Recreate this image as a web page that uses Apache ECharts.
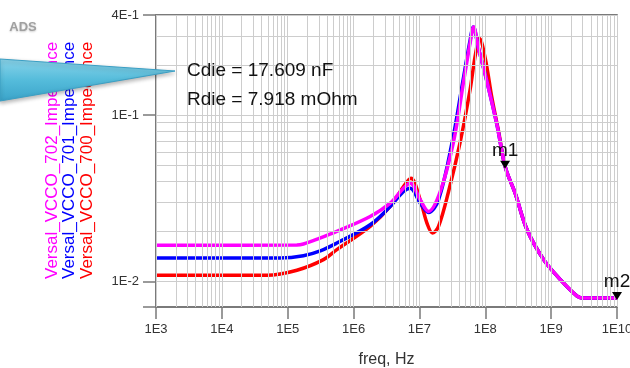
<!DOCTYPE html>
<html>
<head>
<meta charset="utf-8">
<script src="https://cdn.jsdelivr.net/npm/echarts@6/dist/echarts.min.js"></script>
<style>
  html, body { margin: 0; padding: 0; background: #fff; }
  #chart { width: 630px; height: 368px; }
</style>
</head>
<body>
<div id="chart"></div>
<script>
// axis ticks
const xTickVals = [1e3, 1e4, 1e5, 1e6, 1e7, 1e8, 1e9, 1e10];
const xTickLabels = ['1E3', '1E4', '1E5', '1E6', '1E7', '1E8', '1E9', '1E10'];
const yTickVals = [4e-1, 1e-1, 1e-2];
const yTickLabels = ['4E-1', '1E-1', '1E-2'];

// Versal_VCCO_700_Impedance (red)
const freq700 = [1e3, 4.81e4, 1.38e5, 3.49e5, 5.57e5, 1.786e6, 3.6e6, 5.73e6, 7.43e6, 1.028e7, 1.3e7, 1.58e7, 1.95e7,
  2.77e7, 4.17e7, 5.92e7, 7.05e7, 8.18e7, 1.0e8, 1.265e8, 1.59e8, 2.01e8, 2.86e8, 4.31e8, 7.69e8, 1.38e9, 2.48e9, 2.95e9, 4e9, 1e10];
const imp700 = [0.01086, 0.01086, 0.01165, 0.01349, 0.01549, 0.02138, 0.02818, 0.03715, 0.04169, 0.0309, 0.02239, 0.0195, 0.02138,
  0.03467, 0.06918, 0.1445, 0.2291, 0.2884, 0.2188, 0.1259, 0.08, 0.0488, 0.0336, 0.0204, 0.01349, 0.01023, 0.00813, 0.00794, 0.00794, 0.00794];

// Versal_VCCO_701_Impedance (blue)
const freq701 = [1e3, 7.66e4, 1.734e5, 3.2e5, 5.57e5, 1.786e6, 3.6e6, 5.73e6, 7.24e6, 1.028e7, 1.374e7, 1.95e7, 3.15e7, 4.55e7,
  5.82e7, 6.58e7, 7.91e7, 1.062e8, 1.507e8, 2.01e8, 2.86e8, 4.31e8, 7.69e8, 1.38e9, 2.48e9, 2.95e9, 4e9, 1e10];
const imp701 = [0.0138, 0.0138, 0.01425, 0.0153, 0.01698, 0.02188, 0.02818, 0.03467, 0.03631, 0.02951, 0.02594, 0.0309, 0.06918, 0.1585,
  0.2754, 0.3388, 0.2512, 0.1585, 0.087, 0.0488, 0.0336, 0.0204, 0.01349, 0.01023, 0.00813, 0.00794, 0.00794, 0.00794];

// Versal_VCCO_702_Impedance (magenta)
const freq702 = [1e3, 1.374e5, 1.734e5, 3e5, 5.57e5, 1.786e6, 3.6e6, 5.73e6, 7.24e6, 1.028e7, 1.374e7, 2.07e7, 3.3e7, 4.68e7,
  5.92e7, 6.64e7, 7.91e7, 1.062e8, 1.507e8, 2.01e8, 2.86e8, 4.31e8, 7.69e8, 1.38e9, 2.48e9, 2.95e9, 4e9, 1e10];
const imp702 = [0.01644, 0.0165, 0.01675, 0.0181, 0.01995, 0.02455, 0.02951, 0.03631, 0.0389, 0.0309, 0.0263, 0.03467, 0.06918, 0.1585,
  0.2754, 0.3388, 0.2512, 0.1585, 0.087, 0.0488, 0.0336, 0.0204, 0.01349, 0.01023, 0.00813, 0.00794, 0.00794, 0.00794];

// markers
const markerNames = ['m1', 'm2'];
const markerFreqs = [2e8, 1e10];
const markerVals = [0.0488, 0.00794];

const zip = (xs, ys) => xs.map((x, i) => [x, ys[i]]);

// log grid values (2..9 per decade)
const xGrid = [];
for (let d = 3; d < 10; d++) for (let k = 1; k < 10; k++) xGrid.push(k * Math.pow(10, d));
xGrid.push(1e10);
const yGrid = [7e-3, 8e-3, 9e-3];
for (let k = 1; k < 10; k++) yGrid.push(k * 1e-2);
for (let k = 1; k < 5; k++) yGrid.push(k * 1e-1);

const labelFor = (vals, labels) => v => {
  const i = vals.findIndex(t => Math.abs(Math.log10(t) - Math.log10(v)) < 0.01);
  return i < 0 ? '' : labels[i];
};

const FONT = '"Liberation Sans", Arial, sans-serif';
const axisGray = '#7a7a7a';

const chart = echarts.init(document.getElementById('chart'));

const curve = (name, color, data, extra) => Object.assign({
  name,
  type: 'line',
  data,
  showSymbol: false,
  smooth: 0.35,
  z: 3,
  lineStyle: { color, width: 3.5 },
  itemStyle: { color },
  animation: false
}, extra || {});

chart.setOption({
  animation: false,
  textStyle: { fontFamily: FONT },
  grid: { left: 156, top: 15, right: 13, bottom: 61, containLabel: false, outerBoundsMode: 'none' },
  xAxis: [{
    type: 'log',
    logBase: 10,
    min: 1e3,
    max: 1e10,
    position: 'bottom',
    name: 'freq, Hz',
    nameLocation: 'middle',
    nameGap: 45,
    nameTextStyle: { fontSize: 16, color: '#333', fontFamily: FONT },
    axisLine: { onZero: false, lineStyle: { color: axisGray, width: 2 } },
    axisTick: { length: 12, lineStyle: { color: axisGray, width: 1.5 } },
    axisLabel: { margin: 16, fontSize: 13, color: '#333', fontFamily: FONT,
      formatter: labelFor(xTickVals, xTickLabels) },
    splitLine: { show: false }
  }, {
    type: 'log',
    logBase: 10,
    min: 1e3,
    max: 1e10,
    position: 'top',
    axisLine: { onZero: false, lineStyle: { color: axisGray, width: 2 } },
    axisTick: { show: false },
    axisLabel: { show: false },
    splitLine: { show: false }
  }],
  yAxis: {
    type: 'log',
    logBase: 10,
    min: 7e-3,
    max: 4e-1,
    axisLine: { show: true, onZero: false, lineStyle: { color: axisGray, width: 2 } },
    axisTick: { show: true, length: 13, lineStyle: { color: axisGray, width: 1.5 } },
    axisLabel: { margin: 17, fontSize: 13, color: '#333', fontFamily: FONT,
      formatter: labelFor(yTickVals, yTickLabels) },
    splitLine: { show: false }
  },
  series: [
    {
      type: 'line',
      data: [],
      z: 1,
      silent: true,
      markLine: {
        silent: true,
        symbol: 'none',
        animation: false,
        label: { show: false },
        lineStyle: { color: '#cdcdcd', width: 1, type: 'solid' },
        data: xGrid.map(v => ({ xAxis: v })).concat(yGrid.map(v => ({ yAxis: v })))
      }
    },
    curve('Versal_VCCO_700_Impedance', '#ff0000', zip(freq700, imp700)),
    curve('Versal_VCCO_701_Impedance', '#0000ff', zip(freq701, imp701)),
    curve('Versal_VCCO_702_Impedance', '#ff00ff', zip(freq702, imp702), {
      markPoint: {
        symbol: 'triangle',
        symbolRotate: 180,
        symbolSize: [10, 8],
        symbolOffset: [0, -2],
        itemStyle: { color: '#000' },
        label: { show: true, position: 'top', distance: 1, fontSize: 19, color: '#111', fontFamily: FONT,
          formatter: p => p.name },
        data: markerNames.map((n, i) => ({ name: n, coord: [markerFreqs[i], markerVals[i]] }))
      }
    })
  ],
  graphic: [
    { type: 'text', x: 23, y: 27, z: 5,
      style: { text: 'ADS', fill: '#a0a0a0', font: 'bold 13px ' + FONT, align: 'center', verticalAlign: 'middle',
        textShadowColor: 'rgba(0,0,0,0.2)', textShadowBlur: 2, textShadowOffsetY: 1 } },
    { type: 'text', x: 52, y: 279, rotation: Math.PI / 2, z: 5,
      style: { text: 'Versal_VCCO_702_Impedance', fill: '#ff00ff', font: '17px ' + FONT, align: 'left', verticalAlign: 'middle' } },
    { type: 'text', x: 69.5, y: 279, rotation: Math.PI / 2, z: 5,
      style: { text: 'Versal_VCCO_701_Impedance', fill: '#0000ff', font: '17px ' + FONT, align: 'left', verticalAlign: 'middle' } },
    { type: 'text', x: 87, y: 279, rotation: Math.PI / 2, z: 5,
      style: { text: 'Versal_VCCO_700_Impedance', fill: '#ff0000', font: '17px ' + FONT, align: 'left', verticalAlign: 'middle' } },
    // callout wedge
    { type: 'polygon', z: 10,
      shape: { points: [[0, 59], [175, 71], [0, 101]] },
      style: {
        fill: new echarts.graphic.LinearGradient(0, 0, 0, 1, [
          { offset: 0, color: '#8ad4ea' },
          { offset: 0.5, color: '#55bcdb' },
          { offset: 1, color: '#3aa3c9' }
        ]),
        stroke: '#3b9fc4',
        lineWidth: 1,
        shadowBlur: 4,
        shadowOffsetY: 2,
        shadowColor: 'rgba(0,0,0,0.3)'
      } },
    { type: 'text', x: 187, y: 71, z: 10,
      style: { text: 'Cdie = 17.609 nF', fill: '#111', font: '19px ' + FONT, align: 'left', verticalAlign: 'middle' } },
    { type: 'text', x: 187, y: 100, z: 10,
      style: { text: 'Rdie = 7.918 mOhm', fill: '#111', font: '19px ' + FONT, align: 'left', verticalAlign: 'middle' } }
  ]
});
</script>
</body>
</html>
